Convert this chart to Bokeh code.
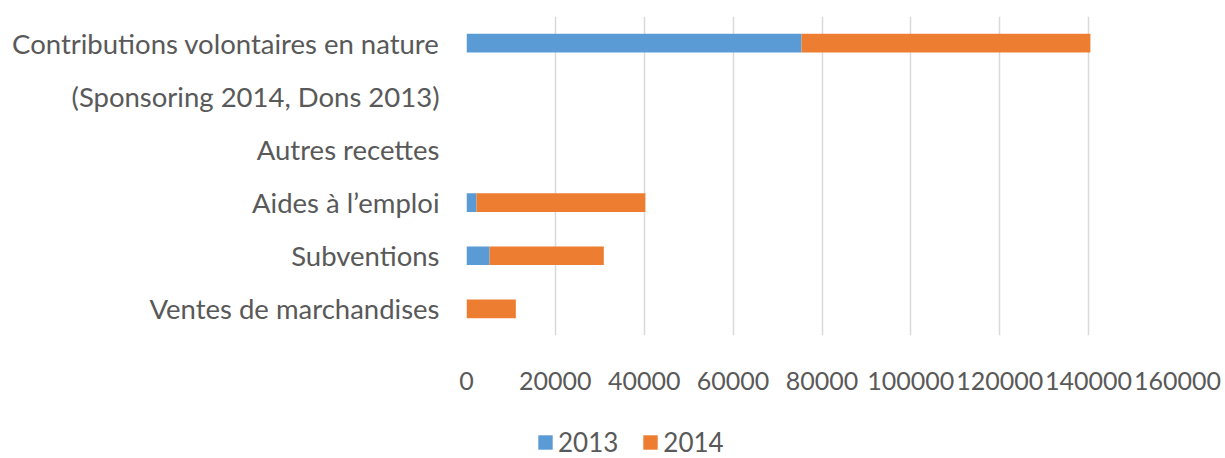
from bokeh.plotting import figure
from bokeh.layouts import column
from bokeh.models import Range1d, FactorRange, Legend, LegendItem, FixedTicker, BasicTickFormatter
from bokeh.embed import file_html
from bokeh.resources import INLINE

categories = [
    "Contributions volontaires en nature",
    "(Sponsoring 2014, Dons 2013)",
    "Autres recettes",
    "Aides à l’emploi",
    "Subventions",
    "Ventes de marchandises",
]
values_2013 = [75400, 0, 0, 2250, 5200, 0]
values_2014 = [65000, 0, 0, 38000, 25700, 11100]
series = ["2013", "2014"]
colors = ["#5B9BD5", "#ED7D31"]
x_ticks = [0, 20000, 40000, 60000, 80000, 100000, 120000, 140000, 160000]

FONT = "Lato"
TEXT_COLOR = "#595959"

data = dict(cat=categories, **{"2013": values_2013, "2014": values_2014})

p = figure(
    width=1225, height=400,
    y_range=FactorRange(factors=list(reversed(categories)), range_padding=0),
    x_range=Range1d(0, 160000),
    output_backend="svg", toolbar_location=None,
    min_border_left=466, min_border_right=48,
    min_border_top=16, min_border_bottom=65,
)
p.outline_line_color = None
p.background_fill_color = "white"
p.border_fill_color = "white"

renderers = p.hbar_stack(series, y="cat", height=0.35, color=colors,
                         line_color=None, source=data)

p.xaxis.ticker = FixedTicker(ticks=x_ticks)
p.xaxis.formatter = BasicTickFormatter(use_scientific=False)
p.xaxis.axis_line_color = None
p.xaxis.major_tick_line_color = None
p.xaxis.minor_tick_line_color = None
p.xaxis.major_label_text_font = FONT
p.xaxis.major_label_text_font_size = "25px"
p.xaxis.major_label_text_color = TEXT_COLOR
p.xaxis.major_label_standoff = 30

p.yaxis.axis_line_color = None
p.yaxis.major_tick_line_color = None
p.yaxis.minor_tick_line_color = None
p.yaxis.major_label_text_font = FONT
p.yaxis.major_label_text_font_size = "27.5px"
p.yaxis.major_label_text_color = TEXT_COLOR
p.yaxis.major_label_standoff = 21

p.ygrid.grid_line_color = None
p.xgrid.grid_line_color = "#D9D9D9"
p.xgrid.grid_line_width = 1.5

# Legend strip below the chart (its frame is aligned with the chart's frame)
leg = figure(
    width=1225, height=58, x_range=Range1d(0, 1), y_range=Range1d(0, 1),
    x_axis_type=None, y_axis_type=None,
    output_backend="svg", toolbar_location=None,
    min_border_left=0, min_border_right=0, min_border_top=0, min_border_bottom=0,
)
leg.outline_line_color = None
leg.xgrid.grid_line_color = None
leg.ygrid.grid_line_color = None
leg_renderers = [leg.quad(left=[10], right=[11], bottom=[10], top=[11], color=c, line_color=None)
                 for c in colors]

legend = Legend(
    items=[LegendItem(label=s, renderers=[r]) for s, r in zip(series, leg_renderers)],
    location=(70, 0), orientation="horizontal",
    border_line_color=None, background_fill_alpha=0,
    label_text_font=FONT, label_text_font_size="26px", label_text_color=TEXT_COLOR,
    glyph_width=18, glyph_height=18, label_standoff=4, spacing=23,
    padding=0, margin=0,
)
leg.add_layout(legend, "center")

layout = column(p, leg, spacing=0)
open("out.html", "w").write(file_html(layout, INLINE))
